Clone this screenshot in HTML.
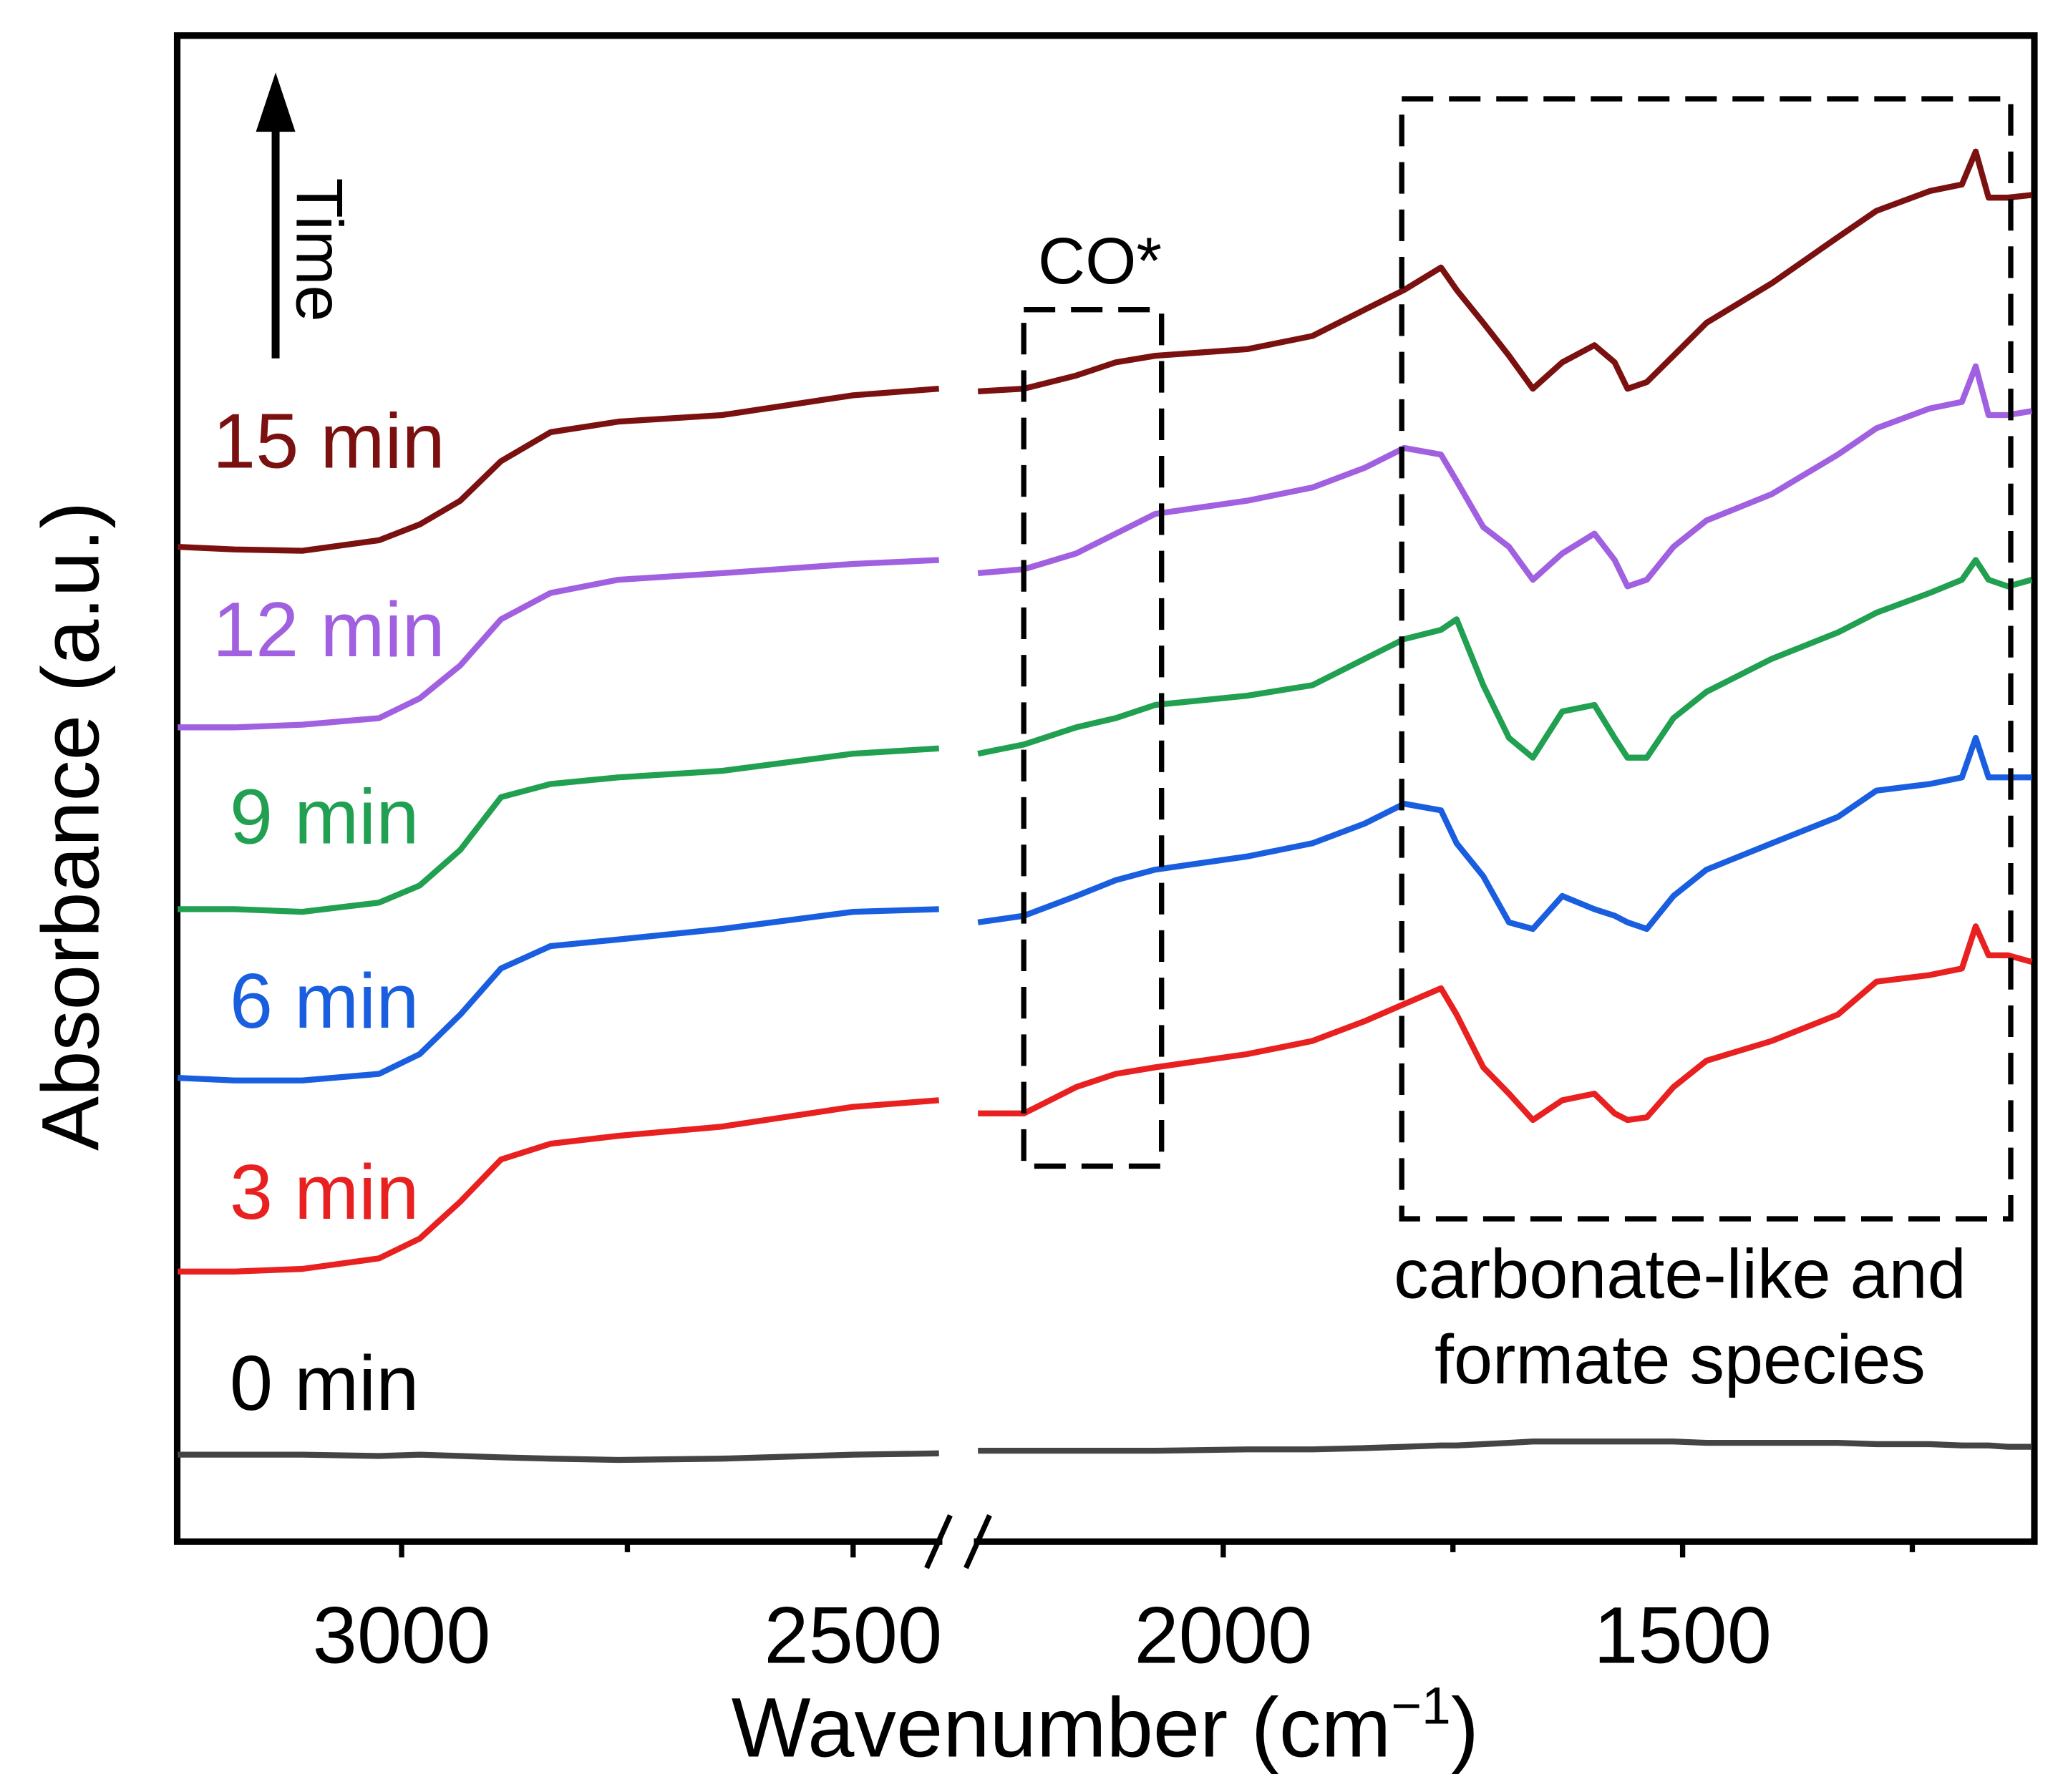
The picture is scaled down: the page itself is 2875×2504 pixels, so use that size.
<!DOCTYPE html>
<html><head><meta charset="utf-8"><style>
html,body{margin:0;padding:0;background:#fff}
svg{display:block}
text{font-family:"Liberation Sans",sans-serif}
</style></head><body>
<svg id="chart" width="2875" height="2504" viewBox="0 0 1568 1360" preserveAspectRatio="none" xmlns="http://www.w3.org/2000/svg">
<rect x="135" y="27" width="1415" height="1143" fill="none" stroke="#000" stroke-width="5"/>
<g id="axis"></g>
<g id="series"></g>
<rect x="718" y="1160" width="24" height="20" fill="#fff"/>
<g stroke="#000" stroke-width="4"><line x1="706" y1="1190" x2="724" y2="1150"/><line x1="736" y1="1190" x2="754" y2="1150"/></g>
<text x="842" y="1333" font-size="64" text-anchor="middle">Wavenumber (cm<tspan dy="-25" font-size="40">−1</tspan><tspan dy="25">)</tspan></text>
<text transform="translate(75,627) rotate(-90)" font-size="62" text-anchor="middle">Absorbance (a.u.)</text>
<g><line x1="210" y1="272" x2="210" y2="95" stroke="#000" stroke-width="6"/><polygon points="195,100 225,100 210,55" fill="#000"/></g>
<text transform="translate(226,135) rotate(90)" font-size="50">Time</text>
<rect x="780" y="235" width="105" height="650" fill="none" stroke="#000" stroke-width="4" stroke-dasharray="24,12"/>
<text x="838" y="215" font-size="50" text-anchor="middle">CO*</text>
<rect x="1068" y="75" width="464" height="850" fill="none" stroke="#000" stroke-width="4" stroke-dasharray="24,12"/>
<text x="1280" y="985" font-size="53" text-anchor="middle">carbonate-like and</text>
<text x="1280" y="1050" font-size="53" text-anchor="middle">formate species</text>
</svg>
<script>
const leftWn=[3248,3185,3110,3025,2980,2935,2890,2835,2760,2645,2500,2405];
const rightWn=[2267,2217,2160,2117,2074,1974,1903,1846,1803,1763,1746,1717,1689,1663,1631,1596,1574,1560,1539,1510,1474,1403,1331,1289,1231,1196,1181,1167,1146,1120];
const seriesNames=["0 min","3 min","6 min","9 min","12 min","15 min"];
const s0L=[66,66,66,65,66,65,64,63,62,63,66,67];
const s0R=[69,69,69,69,69,70,70,71,72,73,73,74,75,76,76,76,76,76,76,76,75,75,75,74,74,73,73,73,72,72];
const s3L=[205,205,207,215,230,258,290,302,308,315,330,335];
const s3R=[325,325,345,355,360,370,380,395,408,420,400,360,340,320,335,340,325,320,322,345,365,380,400,425,430,435,467,445,445,440];
const s6L=[352,350,350,355,370,400,435,452,457,465,478,480];
const s6R=[470,475,490,502,510,520,530,545,560,555,530,505,470,465,490,480,475,470,465,490,510,530,550,570,575,580,610,580,580,580];
const s9L=[480,480,478,485,498,525,565,575,580,585,598,602];
const s9R=[598,605,618,625,635,642,650,670,685,692,700,650,610,595,630,635,610,595,595,625,645,670,690,705,720,730,745,730,725,730];
const s12L=[618,618,620,625,640,665,700,720,730,735,742,745];
const s12R=[735,738,750,765,780,790,800,815,830,825,805,770,755,730,750,765,745,725,730,755,775,795,825,845,860,865,892,855,855,858];
const s15L=[755,753,752,760,772,790,820,842,850,855,870,875];
const s15R=[873,875,885,895,900,905,915,935,950,967,950,925,900,875,895,908,895,875,880,900,925,955,990,1010,1025,1030,1055,1020,1020,1022];
const tickLabels=["3000","2500","2000","1500"];
const majorTicks=[3000,2500,2000,1500];
const minorTicks=[2750,1750,1250];

const NS="http://www.w3.org/2000/svg";
function xs(w){return w>2350?306-(w-3000)*0.688:932-(w-2000)*0.7;}
function ys(v){return 1170-v;}
const colors=["#444444","#e82020","#1a5ee0","#20a050","#a060e0","#7b1010"];
const data=[[s0L,s0R],[s3L,s3R],[s6L,s6R],[s9L,s9R],[s12L,s12R],[s15L,s15R]];
const labelPos=[[175,1070],[175,925],[175,780],[175,640],[162,498],[162,355]];
const sg=document.getElementById('series');
data.forEach((d,i)=>{
  [[leftWn,d[0]],[rightWn,d[1]]].forEach((seg,k)=>{
    const p=document.createElementNS(NS,'polyline');
    p.setAttribute('points',seg[0].map((w,j)=>xs(w).toFixed(1)+','+ys(seg[1][j]).toFixed(1)).join(' '));
    p.setAttribute('fill','none');p.setAttribute('stroke',colors[i]);p.setAttribute('stroke-width','4.5');p.setAttribute('stroke-linejoin','round');
    
    
    sg.appendChild(p);
  });
  const t=document.createElementNS(NS,'text');
  t.setAttribute('x',labelPos[i][0]);t.setAttribute('y',labelPos[i][1]);
  t.setAttribute('font-size','59');t.setAttribute('fill',i===0?'#000':colors[i]);
  t.textContent=seriesNames[i];
  
  
  sg.appendChild(t);
});
const ax=document.getElementById('axis');
majorTicks.forEach((w,i)=>{
  const l=document.createElementNS(NS,'line');
  l.setAttribute('x1',xs(w));l.setAttribute('x2',xs(w));l.setAttribute('y1',1170);l.setAttribute('y2',1182);
  l.setAttribute('stroke','#000');l.setAttribute('stroke-width','4');
  
  
  ax.appendChild(l);
  const t=document.createElementNS(NS,'text');
  t.setAttribute('x',xs(w));t.setAttribute('y',1262);t.setAttribute('font-size','61');t.setAttribute('text-anchor','middle');
  t.textContent=tickLabels[i];
  
  
  ax.appendChild(t);
});
minorTicks.forEach(w=>{
  const l=document.createElementNS(NS,'line');
  l.setAttribute('x1',xs(w));l.setAttribute('x2',xs(w));l.setAttribute('y1',1170);l.setAttribute('y2',1178);
  l.setAttribute('stroke','#000');l.setAttribute('stroke-width','4');
  
  
  ax.appendChild(l);
});
</script>
</body></html>
